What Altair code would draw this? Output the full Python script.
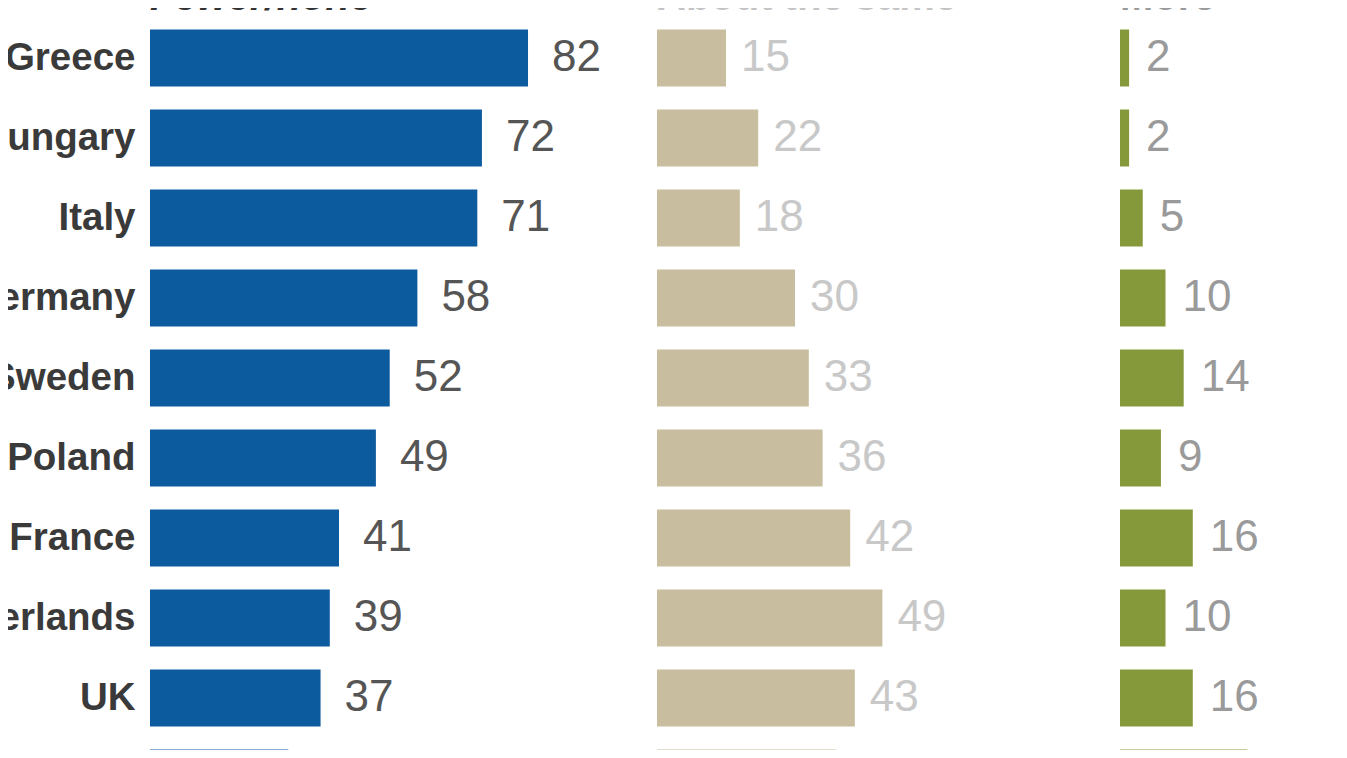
import altair as alt
import pandas as pd

countries = ["Greece", "Hungary", "Italy", "Germany", "Sweden", "Poland",
             "France", "Netherlands", "UK", "Spain"]
fewer = [82, 72, 71, 58, 52, 49, 41, 39, 37, 30]
same = [15, 22, 18, 30, 33, 36, 42, 49, 43, 39]
more = [2, 2, 5, 10, 14, 9, 16, 10, 16, 28]

headers = ["Fewer/none", "About the same", "More"]
bar_colors = ["#0d5b9f", "#c8bd9e", "#86993a"]
label_colors = ["#555555", "#c8c8c8", "#9a9a9a"]
header_colors = ["#333333", "#c4c4c4", "#9a9a9a"]
ranges = [[0, 461], [507, 967], [970, 1425]]
dxs = [24, 15, 17]

df = pd.DataFrame({"country": countries, "fewer": fewer, "same": same, "more": more})
fields = ["fewer", "same", "more"]

FONT = "Liberation Sans"

y_enc = alt.Y(
    "country:N",
    sort=countries,
    scale=alt.Scale(range=[0, 800], paddingInner=0.2875, paddingOuter=0.14375),
    axis=alt.Axis(
        title=None, ticks=False, domain=False, labelPadding=15,
        labelFont=FONT, labelFontSize=38.5, labelFontWeight="bold",
        labelColor="#3a3a3a", labelLimit=400,
    ),
)

cols = []
for i, f in enumerate(fields):
    xs = alt.Scale(domain=[0, 100], range=ranges[i])
    base = alt.Chart(df)
    bars = base.mark_bar(color=bar_colors[i]).encode(
        x=alt.X(f"{f}:Q", scale=xs, axis=None),
        y=y_enc,
    )
    text = base.mark_text(
        align="left", baseline="middle", dx=dxs[i], font=FONT,
        fontSize=44, color=label_colors[i],
    ).encode(
        x=alt.X(f"{f}:Q", scale=xs, axis=None),
        y=y_enc,
        text=alt.Text(f"{f}:Q"),
    )
    hdr = alt.Chart(pd.DataFrame({"h": [headers[i]]})).mark_text(
        align="left", baseline="alphabetic", font=FONT, fontSize=40,
        fontWeight="bold", fontStyle="italic" if i == 0 else "normal",
        color=header_colors[i],
    ).encode(
        x=alt.datum(0, type="quantitative", scale=xs),
        y=alt.value(-8),
        text="h:N",
    )
    cols.append(alt.layer(bars, text, hdr))

chart = alt.layer(*cols).resolve_scale(x="independent").properties(
    width=1180,
    height=732,
    autosize=alt.AutoSizeParams(type="none"),
    padding={"left": 142, "top": 10, "right": 0, "bottom": 0},
    background="white",
).configure_view(stroke=None)

chart.save("out.html", embed_options={"renderer": "svg", "actions": False})
